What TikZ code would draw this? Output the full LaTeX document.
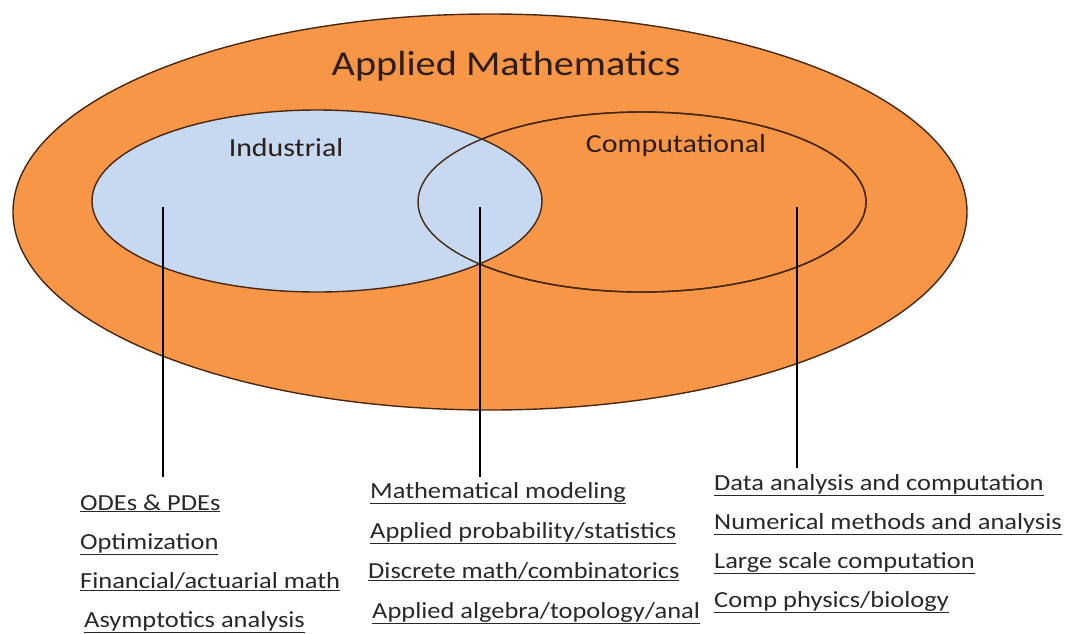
\documentclass[tikz,border=0pt]{standalone}
\usepackage{fontspec}
\setmainfont{Carlito}[FakeStretch=1.15]
\usetikzlibrary{positioning}
\usetikzlibrary{math}

\definecolor{amorange}{RGB}{247,150,70}
\definecolor{amblue}{RGB}{198,217,241}
\definecolor{amedge}{RGB}{70,40,20}
\definecolor{amtext}{RGB}{45,30,25}
\definecolor{amlist}{RGB}{40,40,40}

\tikzset{
  field/.style={line width=1.4pt, draw=amedge},
  headline/.style={text=amtext, inner sep=0pt, font=\fontsize{26}{30}\selectfont},
  topic/.style={anchor=base west, inner sep=0pt, text=amlist, font=\fontsize{23}{27}\selectfont},
  stem/.style={line width=2.4pt, black},
}

\begin{document}
\begin{tikzpicture}[x=1pt,y=-1pt]

  \tikzmath{
    \gap = 39; % distance between the baselines of a list
  }

  \useasboundingbox (0,0) rectangle (1073,633);

  % Applied mathematics as a whole
  \draw[field, fill=amorange] (490,212) ellipse [x radius=477pt, y radius=198pt];
  \node[headline, font=\fontsize{35}{40}\selectfont] (title) at (506,66) {Applied Mathematics};

  % Computational and industrial fields
  \draw[field, fill=amorange] (642,202) ellipse [x radius=224pt, y radius=90pt];
  \draw[field, fill=amblue] (317,201) ellipse [x radius=225pt, y radius=91pt];
  \draw[field] (642,202) ellipse [x radius=224pt, y radius=90pt];

  \node[headline] (ind) at (286,148) {Industrial};
  \node[headline] (comp) at (676,146) {Computational};

  % Points that the lists hang from
  \coordinate (indpt) at (163,207);
  \coordinate (indend) at (163,477);
  \coordinate (bothpt) at (480,207);
  \coordinate (bothend) at (480,477);
  \coordinate (comppt) at (797,207);
  \coordinate (compend) at (797,468);

  \draw[stem] (indpt) -- (indend);
  \draw[stem] (bothpt) -- (bothend);
  \draw[stem] (comppt) -- (compend);

  % Industrial topics
  \node[topic] (ode) at (80,510) {\underline{ODEs \& PDEs}};
  \node[topic] (opt) at (80,510+\gap) {\underline{Optimization}};
  \node[topic] (fin) at (80,510+2*\gap) {\underline{Financial/actuarial math}};
  \node[topic] (asy) at (84,510+3*\gap) {\underline{Asymptotics analysis}};

  % Topics shared by both
  \node[topic] (model) at (370,498) {\underline{Mathematical modeling}};
  \node[topic] (prob) at (370,538) {\underline{Applied probability/statistics}};
  \node[topic] (disc) at (368,578) {\underline{Discrete math/combinatorics}};
  \node[topic] (alg) at (372,618) {\underline{Applied algebra/topology/anal}};

  % Computational topics
  \node[topic] (data) at (714,490) {\underline{Data analysis and computation}};
  \node[topic] (num) at (714,490+\gap) {\underline{Numerical methods and analysis}};
  \node[topic] (large) at (714,490+2*\gap) {\underline{Large scale computation}};
  \node[topic] (phys) at (714,490+3*\gap) {\underline{Comp physics/biology}};

\end{tikzpicture}
\end{document}
